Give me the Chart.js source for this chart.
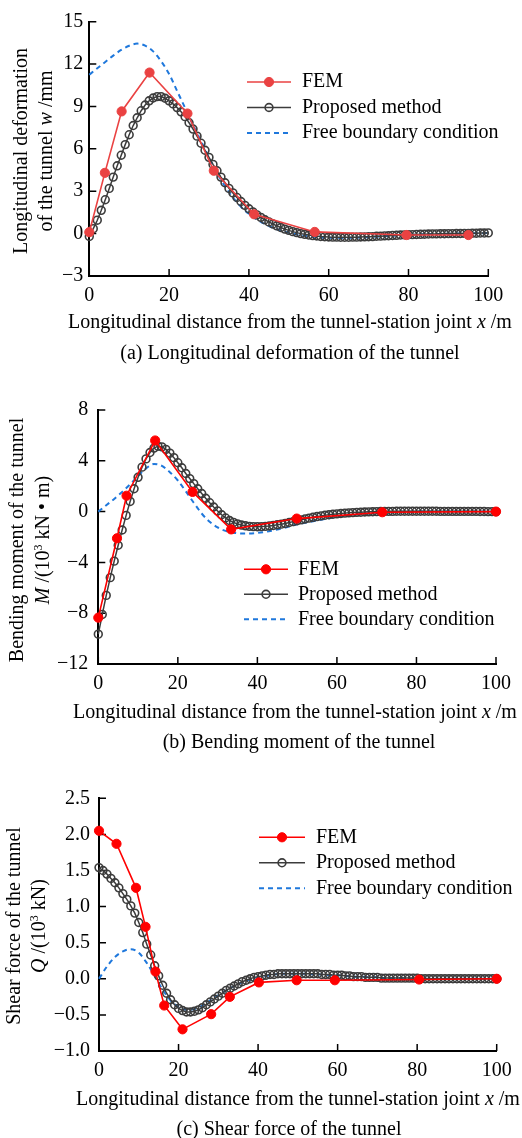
<!DOCTYPE html>
<html>
<head>
<meta charset="utf-8">
<title>Tunnel response along the longitudinal direction</title>
<script src="https://cdn.jsdelivr.net/npm/chart.js@4.4.0/dist/chart.umd.min.js"></script>
<style>
	body { margin: 0; background: #fff; }
	#page { position: relative; width: 522px; height: 1138px; overflow: hidden; font-family: "Liberation Serif", "Times New Roman", serif; color: #000; }
	canvas { position: absolute; left: 0; }
	.lbl { position: absolute; font-size: 20px; line-height: 1; white-space: nowrap; transform: translate(-50%, -50%); }
	.rot { transform: translate(-50%, -50%) rotate(-90deg); }
	sup { font-size: 12px; vertical-align: 7px; line-height: 0; }
</style>
</head>
<body>
<div id="page">
	<canvas id="chartA" width="522" height="370" style="top:0"></canvas>
	<canvas id="chartB" width="522" height="380" style="top:370px"></canvas>
	<canvas id="chartC" width="522" height="388" style="top:750px"></canvas>

	<!-- (a) deformation -->
	<div class="lbl rot" style="left:20px;top:151px">Longitudinal deformation</div>
	<div class="lbl rot" style="left:45px;top:151px">of the tunnel <i>w</i> /mm</div>
	<div class="lbl" style="left:290px;top:321px">Longitudinal distance from the tunnel-station joint <i>x</i> /m</div>
	<div class="lbl" style="left:290px;top:352px">(a) Longitudinal deformation of the tunnel</div>

	<!-- (b) bending moment -->
	<div class="lbl rot" style="left:16px;top:540px">Bending moment of the tunnel</div>
	<div class="lbl rot" style="left:42px;top:540px"><i>M</i> /(10<sup>3</sup> kN • m)</div>
	<div class="lbl" style="left:295px;top:711px">Longitudinal distance from the tunnel-station joint <i>x</i> /m</div>
	<div class="lbl" style="left:299px;top:741px">(b) Bending moment of the tunnel</div>

	<!-- (c) shear force -->
	<div class="lbl rot" style="left:13px;top:926px">Shear force of the tunnel</div>
	<div class="lbl rot" style="left:38px;top:926px"><i>Q</i> /(10<sup>3</sup> kN)</div>
	<div class="lbl" style="left:298px;top:1098px">Longitudinal distance from the tunnel-station joint <i>x</i> /m</div>
	<div class="lbl" style="left:289px;top:1128px">(c) Shear force of the tunnel</div>
</div>

<script>
// stations along the tunnel (m)
var stations1m = [0, 1, 2, 3, 4, 5, 6, 7, 8, 9, 10, 11, 12, 13, 14, 15, 16, 17, 18, 19,
	20, 21, 22, 23, 24, 25, 26, 27, 28, 29, 30, 31, 32, 33, 34, 35, 36, 37, 38, 39,
	40, 41, 42, 43, 44, 45, 46, 47, 48, 49, 50, 51, 52, 53, 54, 55, 56, 57, 58, 59,
	60, 61, 62, 63, 64, 65, 66, 67, 68, 69, 70, 71, 72, 73, 74, 75, 76, 77, 78, 79,
	80, 81, 82, 83, 84, 85, 86, 87, 88, 89, 90, 91, 92, 93, 94, 95, 96, 97, 98, 99, 100];
var stations2m = [0, 2, 4, 6, 8, 10, 12, 14, 16, 18, 20, 22, 24, 26, 28, 30, 32, 34, 36, 38,
	40, 42, 44, 46, 48, 50, 52, 54, 56, 58, 60, 62, 64, 66, 68, 70, 72, 74, 76, 78,
	80, 82, 84, 86, 88, 90, 92, 94, 96, 98, 100];

// (a) longitudinal deformation w (mm)
var femXA = [0, 3.9, 8.1, 15.1, 24.6, 31.2, 41.3, 56.5, 79.5, 95];
var femWA = [0.1, 4.3, 8.65, 11.4, 8.5, 4.45, 1.37, 0.12, -0.1, -0.1];
var proposedW = [-0.2, 0.35, 0.95, 1.65, 2.4, 3.2, 4.0, 4.8, 5.55, 6.3,
	7.0, 7.65, 8.2, 8.7, 9.1, 9.4, 9.6, 9.7, 9.7, 9.58,
	9.4, 9.18, 8.92, 8.62, 8.28, 7.85, 7.4, 6.9, 6.4, 5.9,
	5.4, 4.9, 4.45, 4.0, 3.6, 3.2, 2.88, 2.56, 2.27, 2.0,
	1.76, 1.54, 1.33, 1.15, 0.98, 0.83, 0.68, 0.55, 0.43, 0.32,
	0.23, 0.14, 0.07, 0.0, -0.05, -0.1, -0.14, -0.17, -0.2, -0.22,
	-0.24, -0.25, -0.25, -0.26, -0.26, -0.26, -0.25, -0.25, -0.24, -0.23,
	-0.22, -0.21, -0.19, -0.18, -0.16, -0.15, -0.13, -0.12, -0.1, -0.09,
	-0.08, -0.07, -0.06, -0.05, -0.04, -0.03, -0.02, -0.02, -0.01, -0.01,
	0.0, 0.0, 0.01, 0.01, 0.02, 0.02, 0.03, 0.03, 0.04, 0.04, 0.05];
var freeW = [11.25, 11.7, 12.15, 12.6, 13.0, 13.3, 13.45, 13.3, 12.9, 12.2,
	11.3, 10.1, 8.9, 7.7, 6.55, 5.4, 4.3, 3.35, 2.55, 1.9,
	1.4, 1.0, 0.68, 0.42, 0.22, 0.06, -0.06, -0.15, -0.22, -0.27,
	-0.3, -0.31, -0.31, -0.3, -0.28, -0.25, -0.22, -0.18, -0.15, -0.12,
	-0.09, -0.07, -0.05, -0.03, -0.02, -0.01, 0.0, 0.01, 0.02, 0.03, 0.04];
var ticksA = { min: -3, max: 15, step: 3, digits: 0 };

// (b) bending moment M (10^3 kN·m)
var femXB = [0, 4.7, 7.1, 14.3, 23.7, 33.4, 49.9, 71.4, 100];
var femMB = [-8.35, -2.1, 1.25, 5.6, 1.55, -1.4, -0.55, -0.05, 0];
var proposedM = [-9.65, -8.1, -6.6, -5.2, -3.9, -2.65, -1.45, -0.3, 0.8, 1.8,
	2.7, 3.5, 4.15, 4.65, 5.0, 5.15, 5.1, 4.9, 4.6, 4.25,
	3.85, 3.45, 3.0, 2.6, 2.2, 1.8, 1.42, 1.05, 0.7, 0.36,
	0.05, -0.25, -0.5, -0.7, -0.85, -0.97, -1.06, -1.12, -1.16, -1.18,
	-1.19, -1.18, -1.16, -1.13, -1.09, -1.04, -0.99, -0.93, -0.86, -0.79,
	-0.72, -0.65, -0.58, -0.51, -0.45, -0.39, -0.34, -0.29, -0.25, -0.21,
	-0.18, -0.15, -0.12, -0.1, -0.08, -0.06, -0.05, -0.03, -0.02, -0.01,
	0.0, 0.01, 0.01, 0.02, 0.02, 0.03, 0.03, 0.03, 0.03, 0.03,
	0.03, 0.03, 0.03, 0.03, 0.03, 0.03, 0.02, 0.02, 0.02, 0.02,
	0.02, 0.02, 0.02, 0.02, 0.02, 0.02, 0.01, 0.01, 0.0, 0.0, 0.0];
var freeM = [0, 0.5, 1.0, 1.55, 2.15, 2.8, 3.4, 3.75, 3.6, 3.1,
	2.45, 1.6, 0.7, -0.15, -0.8, -1.25, -1.52, -1.66, -1.72, -1.72,
	-1.68, -1.6, -1.48, -1.35, -1.18, -1.0, -0.88, -0.76, -0.64, -0.53,
	-0.43, -0.34, -0.26, -0.19, -0.13, -0.08, -0.05, -0.03, -0.02, -0.01,
	0, 0, 0, 0, 0, 0, 0, 0, 0, 0, 0];
var ticksB = { min: -12, max: 8, step: 4, digits: 0 };

// (c) shear force Q (10^3 kN)
var femXC = [0, 4.4, 9.3, 11.7, 14.2, 16.4, 21, 28.2, 32.9, 40.2, 49.7, 59.3, 80.5, 100];
var femQC = [2.05, 1.87, 1.26, 0.72, 0.1, -0.37, -0.7, -0.49, -0.25, -0.05, -0.02, -0.02, -0.01, 0];
var proposedQ = [1.54, 1.5, 1.45, 1.39, 1.33, 1.26, 1.18, 1.1, 1.01, 0.91,
	0.78, 0.64, 0.48, 0.33, 0.18, 0.04, -0.09, -0.2, -0.29, -0.36,
	-0.41, -0.44, -0.46, -0.46, -0.45, -0.43, -0.4, -0.36, -0.32, -0.28,
	-0.24, -0.2, -0.16, -0.13, -0.1, -0.07, -0.04, -0.02, 0.0, 0.02,
	0.03, 0.04, 0.05, 0.06, 0.06, 0.07, 0.07, 0.07, 0.07, 0.07,
	0.07, 0.07, 0.07, 0.07, 0.07, 0.07, 0.06, 0.06, 0.06, 0.05,
	0.05, 0.05, 0.04, 0.04, 0.03, 0.03, 0.03, 0.02, 0.02, 0.02,
	0.02, 0.01, 0.01, 0.01, 0.01, 0.01, 0.01, 0.01, 0.01, 0.01,
	0.01, 0, 0, 0, 0, 0, 0, 0, 0, 0,
	0, 0, 0, 0, 0, 0, 0, 0, 0, 0, 0];
var freeQ = [0, 0.17, 0.3, 0.38, 0.41, 0.36, 0.22, 0.04, -0.15, -0.3,
	-0.39, -0.43, -0.42, -0.37, -0.3, -0.23, -0.16, -0.1, -0.05, -0.01,
	0.02, 0.04, 0.06, 0.07, 0.07, 0.07, 0.07, 0.06, 0.06, 0.05,
	0.05, 0.04, 0.03, 0.03, 0.02, 0.02, 0.01, 0.01, 0.01,
	0, 0, 0, 0, 0, 0, 0, 0, 0, 0, 0, 0];
var ticksC = { min: -1, max: 2.5, step: 0.5, digits: 1 };

var seriesNames = ["FEM", "Proposed method", "Free boundary condition"];
var FONT = '"Liberation Serif", "Times New Roman", serif';

function pairs(xs, ys) {
	return xs.map(function (x, i) { return { x: x, y: ys[i] }; });
}

// short tick marks pointing into the plot
var ticksInside = {
	id: "ticksInside",
	beforeDatasetsDraw: function (chart) {
		var ctx = chart.ctx, area = chart.chartArea;
		var sx = chart.scales.x, sy = chart.scales.y;
		ctx.save();
		ctx.strokeStyle = "#000";
		ctx.lineWidth = 1.5;
		ctx.beginPath();
		sx.ticks.forEach(function (t) {
			var px = sx.getPixelForValue(t.value);
			ctx.moveTo(px, area.bottom);
			ctx.lineTo(px, area.bottom - 7);
		});
		sy.ticks.forEach(function (t) {
			var py = sy.getPixelForValue(t.value);
			ctx.moveTo(area.left, py);
			ctx.lineTo(area.left + 7, py);
		});
		ctx.stroke();
		ctx.restore();
	},
};

// legend: line with the marker in the middle, then the label
var lineLegend = {
	id: "lineLegend",
	afterDraw: function (chart, args, opts) {
		var ctx = chart.ctx;
		ctx.save();
		ctx.font = "20px " + FONT;
		ctx.textBaseline = "middle";
		chart.data.datasets.forEach(function (ds, i) {
			var y = opts.top + i * opts.gap;
			var x0 = opts.left, x1 = opts.left + opts.len;
			ctx.strokeStyle = ds.borderColor;
			ctx.lineWidth = ds.borderWidth;
			ctx.setLineDash(ds.borderDash || []);
			ctx.beginPath();
			ctx.moveTo(x0, y);
			ctx.lineTo(x1, y);
			ctx.stroke();
			ctx.setLineDash([]);
			if (ds.pointRadius > 0) {
				ctx.beginPath();
				ctx.arc((x0 + x1) / 2, y, ds.pointRadius, 0, Math.PI * 2);
				ctx.fillStyle = ds.pointBackgroundColor;
				ctx.fill();
				ctx.lineWidth = ds.pointBorderWidth;
				ctx.strokeStyle = ds.pointBorderColor;
				ctx.stroke();
			}
			ctx.fillStyle = "#000";
			ctx.fillText(ds.label, opts.textX, y);
		});
		ctx.restore();
	},
};

function makePanel(id, p) {
	var ctx = document.getElementById(id).getContext("2d");
	return new Chart(ctx, {
		type: "line",
		data: {
			datasets: [
				{
					label: seriesNames[0],
					data: pairs(p.femX, p.femY),
					borderColor: p.red,
					borderWidth: 1.6,
					pointRadius: 4.6,
					pointBackgroundColor: p.red,
					pointBorderColor: p.red,
					pointBorderWidth: 1,
					clip: false,
				},
				{
					label: seriesNames[1],
					data: pairs(stations1m, p.proposed),
					borderColor: "#3c3c3c",
					borderWidth: 1.5,
					pointRadius: 3.9,
					pointBackgroundColor: "rgba(255,255,255,0)",
					pointBorderColor: "#3c3c3c",
					pointBorderWidth: 1.6,
					clip: false,
				},
				{
					label: seriesNames[2],
					data: pairs(stations2m, p.free),
					borderColor: "#1f78dc",
					borderWidth: 2,
					borderDash: [5, 4],
					pointRadius: 0,
					cubicInterpolationMode: "monotone",
					clip: false,
				},
			],
		},
		options: {
			responsive: false,
			animation: false,
			events: [],
			layout: { padding: p.pad },
			plugins: {
				legend: { display: false },
				tooltip: { enabled: false },
				lineLegend: p.legend,
			},
			scales: {
				x: {
					type: "linear",
					min: 0,
					max: 100,
					grid: { drawOnChartArea: false, drawTicks: false },
					border: { display: true, color: "#000", width: 2 },
					ticks: { stepSize: 20, maxRotation: 0, autoSkip: false, padding: 8, color: "#000", font: { family: FONT, size: 20 } },
					afterFit: function (s) { s.height = 30; },
				},
				y: {
					type: "linear",
					min: p.ticks.min,
					max: p.ticks.max,
					grid: { drawOnChartArea: false, drawTicks: false },
					border: { display: true, color: "#000", width: 2 },
					ticks: {
						stepSize: p.ticks.step,
						autoSkip: false,
						padding: p.yPad,
						color: "#000",
						font: { family: FONT, size: 20 },
						callback: function (v) { return Number(v).toFixed(p.ticks.digits).replace("-", "\u2212"); },
					},
					afterFit: function (s) { s.width = p.left; },
				},
			},
		},
		plugins: [ticksInside, lineLegend],
	});
}

makePanel("chartA", {
	femX: femXA, femY: femWA, proposed: proposedW, free: freeW, ticks: ticksA,
	red: "#ea4242", left: 89.3, yPad: 6,
	pad: { left: 0, top: 21.7, right: 33.7, bottom: 64 },
	legend: { left: 247, len: 44, textX: 302, top: 82, gap: 25.5 },
});

makePanel("chartB", {
	femX: femXB, femY: femMB, proposed: proposedM, free: freeM, ticks: ticksB,
	red: "#ff0000", left: 98.3, yPad: 10,
	pad: { left: 0, top: 40, right: 26, bottom: 56 },
	legend: { left: 244, len: 44, textX: 298, top: 199.3, gap: 25 },
});

makePanel("chartC", {
	femX: femXC, femY: femQC, proposed: proposedQ, free: freeQ, ticks: ticksC,
	red: "#ff0000", left: 99, yPad: 9,
	pad: { left: 0, top: 48.3, right: 25.3, bottom: 57 },
	legend: { left: 259, len: 46, textX: 316, top: 87.3, gap: 25.5 },
});
</script>
</body>
</html>
